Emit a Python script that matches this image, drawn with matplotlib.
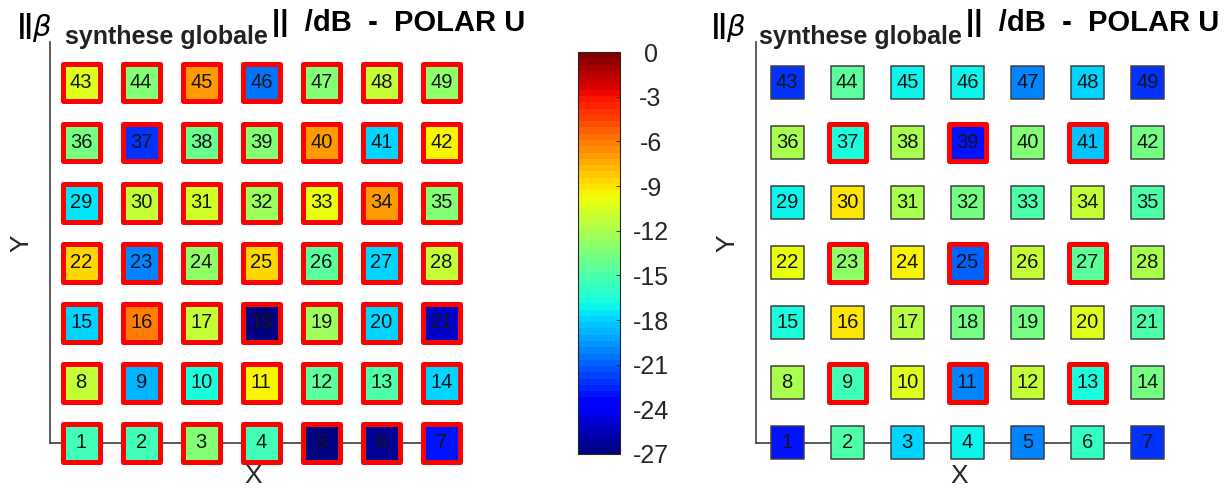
import numpy as np
import matplotlib
matplotlib.use("Agg")
import matplotlib.pyplot as plt

plt.rcParams['font.family'] = ['Liberation Sans', 'DejaVu Sans']
plt.rcParams['axes.unicode_minus'] = False

# valeurs /dB des 49 capteurs (numéro 1..49, ligne par ligne depuis le bas)
val_gauche = [-15.2, -15.2, -13.5, -15.5, -26.7, -26.5, -23.0,
              -11.1, -18.9, -16.5, -9.5, -14.5, -14.9, -17.9,
              -17.9, -6.1, -11.1, -26.7, -12.5, -17.9, -25.3,
              -8.8, -20.2, -12.8, -8.8, -14.5, -17.9, -11.1,
              -17.6, -11.1, -10.8, -12.5, -9.8, -7.1, -13.2,
              -13.8, -22.3, -14.2, -13.5, -6.8, -17.9, -9.5,
              -10.5, -13.5, -7.0, -20.6, -13.5, -11.1, -12.8]
val_droite = [-23.0, -14.9, -17.9, -16.9, -19.9, -16.0, -22.3,
              -12.2, -15.5, -10.5, -20.2, -11.1, -16.8, -13.8,
              -16.6, -9.1, -11.5, -13.8, -13.8, -10.5, -14.9,
              -10.1, -12.8, -9.5, -20.9, -11.1, -14.5, -11.9,
              -16.9, -9.1, -11.9, -13.8, -14.9, -11.1, -14.9,
              -12.2, -16.5, -11.9, -23.0, -13.2, -18.2, -13.8,
              -22.3, -14.5, -16.9, -17.2, -19.9, -17.9, -22.0]
# capteurs encadrés en rouge
rouge_gauche = list(range(1, 50))
rouge_droite = [9, 11, 13, 23, 25, 27, 37, 39, 41]

numeros = np.arange(1, 50)
xs = (numeros - 1) % 7 + 1
ys = (numeros - 1) // 7 + 1

vmin, vmax = -27, 0
cmap = plt.get_cmap('jet', 64)
W, H = 1231, 488

fig = plt.figure(figsize=(W / 100, H / 100), dpi=100)

def panneau(left_px, valeurs, rouges):
    ax = fig.add_axes([left_px / W, 9 / H, 407 / W, 437 / H])
    ax.set_xlim(0.48, 7.26)
    ax.set_ylim(0.4, 7.68)
    v = np.array(valeurs)
    rouge = np.isin(numeros, rouges)
    gris = '#404040'
    if (~rouge).any():
        ax.scatter(xs[~rouge], ys[~rouge], c=v[~rouge], cmap=cmap, vmin=vmin, vmax=vmax,
                   marker='s', s=565, edgecolors=gris, linewidths=1.1, zorder=3,
                   clip_on=False)
    sc = ax.scatter(xs[rouge], ys[rouge], c=v[rouge], cmap=cmap, vmin=vmin, vmax=vmax,
                    marker='s', s=720, edgecolors='red', linewidths=3.6, zorder=3,
                    clip_on=False)
    for n, x, y in zip(numeros, xs, ys):
        ax.text(x, y, str(n), ha='center', va='center', fontsize=14.5,
                color='#151515', zorder=4)
    for s in ['top', 'right']:
        ax.spines[s].set_visible(False)
    ax.spines['bottom'].set_position(('data', 1))
    ax.spines['bottom'].set_bounds(0.48, 7)
    ax.spines['left'].set_bounds(1, 7.68)
    for s in ['bottom', 'left']:
        ax.spines[s].set_color(gris)
        ax.spines[s].set_linewidth(1.2)
    ax.set_xticks([])
    ax.set_yticks([])
    ax.set_xlabel('X', fontsize=19, color='#262626')
    ax.xaxis.set_label_coords(0.5, 0.035)
    ax.set_ylabel('Y', fontsize=19, color='#262626')
    ax.yaxis.set_label_coords(-0.04, 0.54)
    return sc

def titre(x0):
    kw = dict(transform=None, va='baseline', color='black')
    fig.text(x0, H - 33, '||', fontsize=20, fontweight='bold', **kw)
    fig.text(x0 + 14, H - 36, r'$\beta$', fontsize=21, **kw)
    fig.text(x0 + 47, H - 44, 'synthese globale', fontsize=18,
             fontweight='bold', color='#222222', transform=None, va='baseline')
    fig.text(x0 + 254, H - 31, '||  /dB  -  POLAR U', fontsize=21,
             fontweight='bold', **kw)

sc = panneau(50, val_gauche, rouge_gauche)
panneau(756, val_droite, rouge_droite)
titre(18)
titre(712)

# barre de couleurs
cax = fig.add_axes([578 / W, (H - 454) / H, 42 / W, 402 / H])
cb = fig.colorbar(sc, cax=cax, ticks=np.arange(-27, 1, 3))
cb.outline.set_edgecolor('#262626')
cb.outline.set_linewidth(0.8)
cax.tick_params(direction='in', length=3, width=0.6, color='#262626',
                labelsize=18, labelcolor='#262626', pad=22)
for t in cax.get_yticklabels():
    t.set_horizontalalignment('center')

fig.savefig('out.png', dpi=100)
